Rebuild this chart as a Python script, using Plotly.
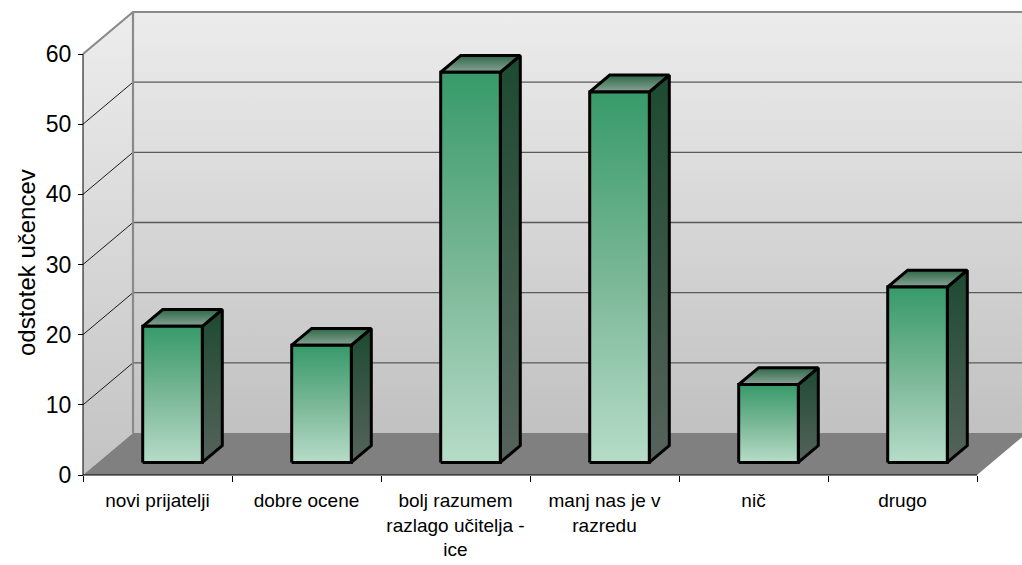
import plotly.graph_objects as go

# ---- data ----
categories = [
    "novi prijatelji",
    "dobre ocene",
    "bolj razumem<br>razlago učitelja -<br>ice",
    "manj nas je v<br>razredu",
    "nič",
    "drugo",
]
values = [19.4, 16.7, 55.6, 52.8, 11.1, 25.0]
y_ticks = [0, 10, 20, 30, 40, 50, 60]
y_title = "odstotek učencev"

# ---- 3D projection settings (oblique, in axis units) ----
Y_MAX = 60
N = len(categories)
DEPTH_X = 50 / 149          # depth offset along x (category units)
DEPTH_Y = 42 / (421 / 60)   # depth offset along y (value units)
BAR_W = 0.40                # bar width as fraction of category
BAR_D0, BAR_D1 = 0.30, 0.70 # bar depth span as fraction of floor depth

X_RANGE = [-83 / 149, 939 / 149]
Y_RANGE = [-90 / (421 / 60), 475 / (421 / 60)]

FONT = "Liberation Sans, Arial, sans-serif"

fig = go.Figure()


def poly(xs, ys, grad=None, fill=None, line_color="black", line_width=0):
    kw = dict(
        x=xs + [xs[0]], y=ys + [ys[0]], mode="lines", fill="toself",
        line=dict(color=line_color, width=line_width),
        hoverinfo="skip", showlegend=False,
    )
    if grad is not None:
        kw["fillgradient"] = grad
    else:
        kw["fillcolor"] = fill
    fig.add_trace(go.Scatter(**kw))


def vgrad(y0, y1, c0, c1):
    return dict(type="vertical", start=y0, stop=y1,
                colorscale=[[0, c0], [1, c1]])


wall_grad = vgrad(DEPTH_Y, Y_MAX + DEPTH_Y, "#c1c1c1", "#ececec")

# back wall
poly([DEPTH_X, N + DEPTH_X, N + DEPTH_X, DEPTH_X],
     [DEPTH_Y, DEPTH_Y, Y_MAX + DEPTH_Y, Y_MAX + DEPTH_Y], grad=wall_grad)
# left wall
poly([0, 0, DEPTH_X, DEPTH_X],
     [0, Y_MAX, Y_MAX + DEPTH_Y, DEPTH_Y],
     grad=vgrad(0, Y_MAX + DEPTH_Y, "#c3c3c3", "#ededed"))
# floor
poly([0, N, N + DEPTH_X, DEPTH_X], [0, 0, DEPTH_Y, DEPTH_Y], fill="#808080")

# gridlines on the back wall
gx, gy = [], []
for v in y_ticks[1:-1]:
    gx += [DEPTH_X, N + DEPTH_X, None]
    gy += [v + DEPTH_Y, v + DEPTH_Y, None]
fig.add_trace(go.Scatter(x=gx, y=gy, mode="lines",
                         line=dict(color="#5a5a5a", width=1.3),
                         hoverinfo="skip", showlegend=False))

# gridlines on the left wall
lx, ly = [], []
for v in y_ticks[1:-1]:
    lx += [0, DEPTH_X, None]
    ly += [v, v + DEPTH_Y, None]
fig.add_trace(go.Scatter(x=lx, y=ly, mode="lines",
                         line=dict(color="#1a1a1a", width=1),
                         hoverinfo="skip", showlegend=False))

# wall edges
fig.add_trace(go.Scatter(
    x=[0, DEPTH_X, N + DEPTH_X + 1, None, DEPTH_X, DEPTH_X],
    y=[Y_MAX, Y_MAX + DEPTH_Y, Y_MAX + DEPTH_Y, None, Y_MAX + DEPTH_Y, DEPTH_Y],
    mode="lines", line=dict(color="#8a8a8a", width=2.2),
    hoverinfo="skip", showlegend=False))

# front axis lines
fig.add_trace(go.Scatter(
    x=[0, 0, None, 0, N], y=[Y_MAX, 0, None, 0, 0],
    mode="lines", line=dict(color="black", width=1),
    hoverinfo="skip", showlegend=False))

# ---- bars ----
sx = (BAR_D1 - BAR_D0) * DEPTH_X
sy = (BAR_D1 - BAR_D0) * DEPTH_Y
for i, v in enumerate(values):
    x0 = i + 0.5 - BAR_W / 2 + BAR_D0 * DEPTH_X
    x1 = x0 + BAR_W
    yb = BAR_D0 * DEPTH_Y
    yt = yb + v
    # side face
    poly([x1, x1, x1 + sx, x1 + sx], [yb, yt, yt + sy, yb + sy],
         grad=vgrad(yb, yt + sy, "#56635c", "#1d4a31"), line_width=3)
    # top face
    poly([x0, x1, x1 + sx, x0 + sx], [yt, yt, yt + sy, yt + sy],
         grad=vgrad(yt, yt + sy, "#8aa395", "#2d6848"), line_width=3)
    # front face
    poly([x0, x1, x1, x0], [yb, yb, yt, yt],
         grad=dict(type="vertical", start=yb, stop=yt,
                   colorscale=[[0, "#b6dcc8"], [0.5, "#79b796"], [1, "#379a69"]]),
         line_width=3)

# y-axis title
fig.add_annotation(text=y_title, xref="paper", yref="paper",
                   x=27 / 1022, y=1 - 263 / 565, textangle=-90,
                   showarrow=False, font=dict(family=FONT, size=24, color="black"),
                   xanchor="center", yanchor="middle")

fig.update_layout(
    width=1022, height=565,
    margin=dict(l=0, r=0, t=0, b=0),
    paper_bgcolor="white", plot_bgcolor="white",
    font=dict(family=FONT, size=20, color="black"),
    xaxis=dict(
        range=X_RANGE, domain=[0, 1], anchor="free", position=90 / 565,
        tickmode="array", tickvals=[i + 0.5 for i in range(N)], ticktext=categories,
        ticks="", showline=False, showgrid=False, zeroline=False,
        tickfont=dict(family=FONT, size=19), ticklabelstandoff=12,
        minor=dict(tickmode="array", tickvals=list(range(N + 1)), ticks="outside",
                   ticklen=6, tickcolor="black", tickwidth=1, showgrid=False),
        automargin=False, fixedrange=True,
    ),
    yaxis=dict(
        range=Y_RANGE, domain=[0, 1], anchor="free", position=83 / 1022,
        tickmode="array", tickvals=y_ticks, ticks="outside", ticklen=5,
        tickcolor="black", showline=False, showgrid=False, zeroline=False,
        tickfont=dict(family=FONT, size=23), ticklabelstandoff=2,
        automargin=False, fixedrange=True,
    ),
)

fig.write_html("out.html")
